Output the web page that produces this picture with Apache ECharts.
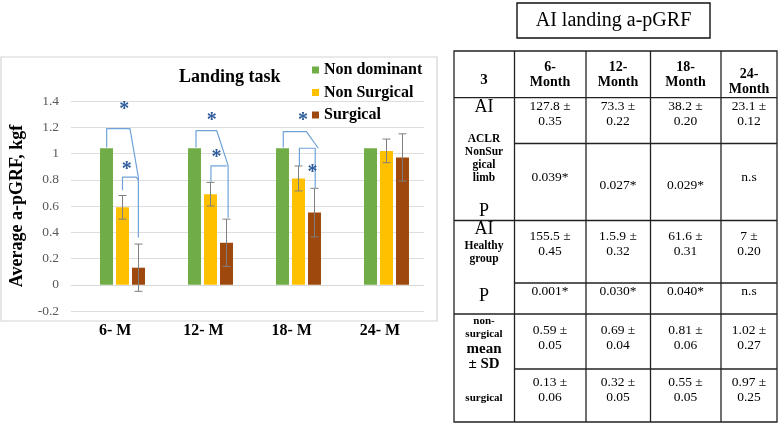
<!DOCTYPE html>
<html><head><meta charset="utf-8">
<script src="https://cdn.jsdelivr.net/npm/echarts@6/dist/echarts.min.js"></script>
<style>html,body{margin:0;padding:0;background:#fff}#c{width:778px;height:424px}</style>
</head><body><div id="c"></div>
<script>
// ---------------- DATA ----------------
const categories = ['6- M', '12- M', '18- M', '24- M'];
const nonDominant = [1.04, 1.04, 1.04, 1.04];
const nonSurgical = [0.59, 0.69, 0.81, 1.02];
const surgical = [0.13, 0.32, 0.55, 0.97];
const nonSurgicalErr = [0.09, 0.09, 0.095, 0.09];
const surgicalErr = [0.18, 0.18, 0.185, 0.18];
const seriesNames = ['Non dominant', 'Non Surgical', 'Surgical'];

// significance brackets, in data units (x: 0..4, category k centred at k+0.5)
const bracket6Outer = [[0.32, 1.045], [0.32, 1.19], [0.585, 1.19], [0.68, 0.82], [0.68, 0.36]];
const bracket6Inner = [[0.5, 0.72], [0.5, 0.82], [0.655, 0.82], [0.68, 0.80]];
const bracket12Outer = [[1.335, 1.045], [1.335, 1.175], [1.57, 1.175], [1.70, 0.91], [1.70, 0.51]];
const bracket12Inner = [[1.505, 0.785], [1.505, 0.905], [1.685, 0.905]];
const bracket18Outer = [[2.327, 1.045], [2.327, 1.167], [2.59, 1.167], [2.725, 1.04]];
const bracket18Inner = [[2.51, 0.905], [2.51, 1.04], [2.69, 1.04], [2.69, 0.74]];
const starPoints = [[0.52, 1.37], [0.548, 0.91], [1.514, 1.286], [1.568, 1.006], [2.55, 1.29], [2.66, 0.89]];

// table texts
const tableTitle = 'AI landing a-pGRF';
const tableHeader = ['6-\nMonth', '12-\nMonth', '18-\nMonth', '24-\nMonth'];
const aiAclr = ['127.8 ±\n0.35', '73.3 ±\n0.22', '38.2 ±\n0.20', '23.1 ±\n0.12'];
const pAclr = ['0.039*', '0.027*', '0.029*', 'n.s'];
const aiHealthy = ['155.5 ±\n0.45', '1.5.9 ±\n0.32', '61.6 ±\n0.31', '7 ±\n0.20'];
const pHealthy = ['0.001*', '0.030*', '0.040*', 'n.s'];
const nonSurgMeanSd = ['0.59 ±\n0.05', '0.69 ±\n0.04', '0.81 ±\n0.06', '1.02 ±\n0.27'];
const surgMeanSd = ['0.13 ±\n0.06', '0.32 ±\n0.05', '0.55 ±\n0.05', '0.97 ±\n0.25'];

// ---------------- LAYOUT / STYLE ----------------
const SERIF = '"Liberation Serif", "Times New Roman", serif';
const colors = ['#70ad47', '#ffc000', '#9e480e'];
const BAR_W = 13, BAR_GAP = 0.23;
const colX = [454, 514.5, 586, 650.5, 721, 777];
const colC = [484, 550, 618, 685.5, 749];

const chart = echarts.init(document.getElementById('c'));

function errSeries(vals, errs, idx) {
  return {
    type: 'custom', xAxisIndex: 1, yAxisIndex: 1, silent: true, z: 5,
    data: vals.map((v, k) => [k, v, errs[k]]),
    renderItem(params, api) {
      const k = api.value(0), v = api.value(1), e = api.value(2);
      const off = (idx - 1) * BAR_W * (1 + BAR_GAP);
      const hi = api.coord([k, v + e]), lo = api.coord([k, v - e]);
      const x = hi[0] + off;
      const st = { stroke: '#7f7f7f', lineWidth: 1 };
      return { type: 'group', children: [
        { type: 'line', shape: { x1: x, y1: hi[1], x2: x, y2: lo[1] }, style: st },
        { type: 'line', shape: { x1: x - 4, y1: hi[1], x2: x + 4, y2: hi[1] }, style: st },
        { type: 'line', shape: { x1: x - 4, y1: lo[1], x2: x + 4, y2: lo[1] }, style: st }
      ]};
    }
  };
}
function bracket(pts) {
  return { type: 'line', xAxisIndex: 2, yAxisIndex: 1, data: pts, symbol: 'none', silent: true, z: 6,
    lineStyle: { color: '#6fa3d8', width: 1.2 }, animation: false };
}

const g = [];
// chart frame
g.push({ type: 'rect', shape: { x: 1, y: 57, width: 436, height: 264 }, style: { fill: 'none', stroke: '#d4d4d4', lineWidth: 1.2 }, z: 0 });
// table title box
g.push({ type: 'rect', shape: { x: 517, y: 3, width: 193, height: 35 }, style: { fill: 'none', stroke: '#111', lineWidth: 1.4 } });
g.push({ type: 'text', style: { x: 613.5, y: 21, text: tableTitle, font: '20px ' + SERIF, fill: '#000', align: 'center', verticalAlign: 'middle' } });
// table grid
const T = 51, B = 422, L = colX[0], R = colX[5];
const tl = { stroke: '#222', lineWidth: 1.3 };
g.push({ type: 'rect', shape: { x: L, y: T, width: R - L, height: B - T }, style: Object.assign({ fill: 'none' }, tl) });
for (let i = 1; i < 5; i++) g.push({ type: 'line', shape: { x1: colX[i], y1: T, x2: colX[i], y2: B }, style: tl });
[[97.7, L], [143.5, colX[1]], [220.5, L], [283, colX[1]], [314, L], [369, colX[1]]].forEach(([y, x0]) =>
  g.push({ type: 'line', shape: { x1: x0, y1: y, x2: R, y2: y }, style: tl }));

function txt(x, y, s, font, lh) {
  g.push({ type: 'text', style: { x, y, text: s, font, fill: '#000', align: 'center', verticalAlign: 'middle', lineHeight: lh || 15 } });
}
const bold14 = 'bold 14px ' + SERIF, reg13 = '13.5px ' + SERIF, big = '18px ' + SERIF, small = 'bold 11.5px ' + SERIF;
// header
txt(colC[0], 80, '3', 'bold 15px ' + SERIF);
tableHeader.forEach((s, i) => txt(colC[i + 1], i === 3 ? 82 : 75, s, bold14, 15));
// first column
txt(colC[0], 107, 'AI', big);
txt(colC[0], 159, 'ACLR\nNonSur\ngical\nlimb', small, 13);
txt(colC[0], 211, 'P', big);
txt(colC[0], 229, 'AI', big);
txt(colC[0], 253, 'Healthy\ngroup', small, 13);
txt(colC[0], 296, 'P', big);
txt(colC[0], 328, 'non-\nsurgical', 'bold 11px ' + SERIF, 13);
txt(colC[0], 357, 'mean\n± SD', 'bold 15px ' + SERIF, 15);
txt(colC[0], 398, 'surgical', 'bold 11px ' + SERIF);
// values
aiAclr.forEach((s, i) => txt(colC[i + 1], 114, s, reg13));
pAclr.forEach((s, i) => txt(colC[i + 1], (i === 1 || i === 2) ? 185 : 177, s, reg13));
aiHealthy.forEach((s, i) => txt(colC[i + 1], 244, s, reg13));
pHealthy.forEach((s, i) => txt(colC[i + 1], 291, s, reg13));
nonSurgMeanSd.forEach((s, i) => txt(colC[i + 1], 337.5, s, reg13));
surgMeanSd.forEach((s, i) => txt(colC[i + 1], 389.5, s, reg13));

const barSeries = [nonDominant, nonSurgical, surgical].map((d, i) => ({
  name: seriesNames[i], type: 'bar', xAxisIndex: 1, yAxisIndex: 1, data: d,
  barWidth: BAR_W, barGap: (BAR_GAP * 100) + '%', itemStyle: { color: colors[i] }, z: 3
}));

const option = {
  animation: false,
  backgroundColor: '#fff',
  title: { text: 'Landing task', left: 174, top: 63, textStyle: { fontFamily: SERIF, fontWeight: 'bold', fontSize: 18, color: '#000' } },
  legend: {
    data: seriesNames, orient: 'vertical', left: 307, top: 57, itemWidth: 7, itemHeight: 7, itemGap: 6.5,
    icon: 'rect', selectedMode: false,
    textStyle: { fontFamily: SERIF, fontWeight: 'bold', fontSize: 16, color: '#000' }
  },
  grid: [
    { left: 71, top: 101, width: 353, height: 210 },
    { left: 78.5, top: 101, width: 352, height: 210 }
  ],
  xAxis: [
    { type: 'category', gridIndex: 0, data: categories,
      axisLine: { show: true, onZero: true, lineStyle: { color: '#d9d9d9' } }, axisTick: { show: false },
      axisLabel: { margin: 12, fontFamily: SERIF, fontWeight: 'bold', fontSize: 16, color: '#000' } },
    { type: 'category', gridIndex: 1, data: categories, show: false },
    { type: 'value', gridIndex: 1, min: 0, max: 4, show: false }
  ],
  yAxis: [
    { type: 'value', gridIndex: 0, min: -0.2, max: 1.4, interval: 0.2,
      name: 'Average a-pGRF, kgf', nameLocation: 'middle', nameRotate: 90, nameGap: 45,
      nameTextStyle: { fontFamily: SERIF, fontWeight: 'bold', fontSize: 18, color: '#000' },
      axisLine: { show: false }, axisTick: { show: false },
      axisLabel: { margin: 12, fontFamily: SERIF, fontSize: 13.5, color: '#595959' },
      splitLine: { lineStyle: { color: '#dedede', width: 1 } } },
    { type: 'value', gridIndex: 1, min: -0.2, max: 1.4, interval: 0.2, show: false, splitLine: { show: false } }
  ],
  series: [
    ...barSeries,
    errSeries(nonSurgical, nonSurgicalErr, 1),
    errSeries(surgical, surgicalErr, 2),
    bracket(bracket6Outer), bracket(bracket6Inner),
    bracket(bracket12Outer), bracket(bracket12Inner),
    bracket(bracket18Outer), bracket(bracket18Inner),
    { type: 'custom', xAxisIndex: 2, yAxisIndex: 1, silent: true, z: 7, data: starPoints,
      renderItem(params, api) {
        const p = api.coord([api.value(0), api.value(1)]);
        return { type: 'text', x: p[0], y: p[1] + 5,
          style: { text: '*', font: 'bold 20px ' + SERIF, fill: '#2e5c9a', align: 'center', verticalAlign: 'middle' } };
      } }
  ],
  graphic: g
};
chart.setOption(option);
</script></body></html>
